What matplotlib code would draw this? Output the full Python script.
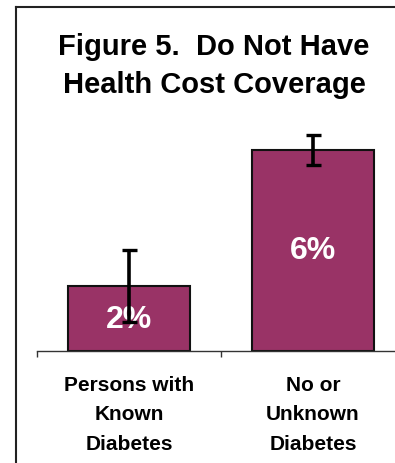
import matplotlib.pyplot as plt
from matplotlib.lines import Line2D

# data
categories = ['Persons with\nKnown\nDiabetes', 'No or\nUnknown\nDiabetes']
values = [2.0, 6.2]
errors = [1.1, 0.45]
labels = ['2%', '6%']

plt.rcParams['font.family'] = ['Liberation Sans', 'DejaVu Sans']

fig = plt.figure(figsize=(3.95, 4.64), dpi=100)
ax = fig.add_axes([37 / 395, 112 / 464, 368 / 395, 227 / 464])

x = range(len(values))
ax.bar(x, values, width=0.66, color='#993366', edgecolor='#111111',
       linewidth=1.5, zorder=2)
ax.errorbar(x, values, yerr=errors, fmt='none', ecolor='black',
            elinewidth=2.6, capsize=5.4, capthick=2.4, zorder=4)

for xi, v, lab in zip(x, values, labels):
    ax.text(xi, v / 2, lab, ha='center', va='center', color='white',
            fontsize=23, fontweight='bold', zorder=3)

ax.set_xlim(-0.5, 1.5)
ax.set_ylim(0, 7)
ax.set_yticks([])
for s in ['top', 'right', 'left']:
    ax.spines[s].set_visible(False)
ax.spines['bottom'].set_color('#333333')
ax.spines['bottom'].set_linewidth(1.0)

ax.set_xticks(list(x))
ax.set_xticklabels(categories, fontsize=15, fontweight='bold',
                   linespacing=1.72, va='top')
ax.tick_params(axis='x', which='major', length=0, pad=17)
ax.set_xticks([-0.5, 0.5, 1.5], minor=True)
ax.tick_params(axis='x', which='minor', length=4, width=1.0,
               color='#333333', direction='out')

# title
fig.text(214 / 395, 1 - 47 / 464, 'Figure 5.  Do Not Have', ha='center',
         va='center', fontsize=21, fontweight='bold')
fig.text(214 / 395, 1 - 85 / 464, 'Health Cost Coverage', ha='center',
         va='center', fontsize=21, fontweight='bold')

# outer frame (cropped at right and bottom)
fig.add_artist(Line2D([16 / 395, 16 / 395], [0, 1 - 8 / 464],
                      transform=fig.transFigure, color='#222222', lw=1.5))
fig.add_artist(Line2D([16 / 395, 1], [1 - 8 / 464, 1 - 8 / 464],
                      transform=fig.transFigure, color='#222222', lw=1.5))

fig.savefig('out.png', dpi=100)
